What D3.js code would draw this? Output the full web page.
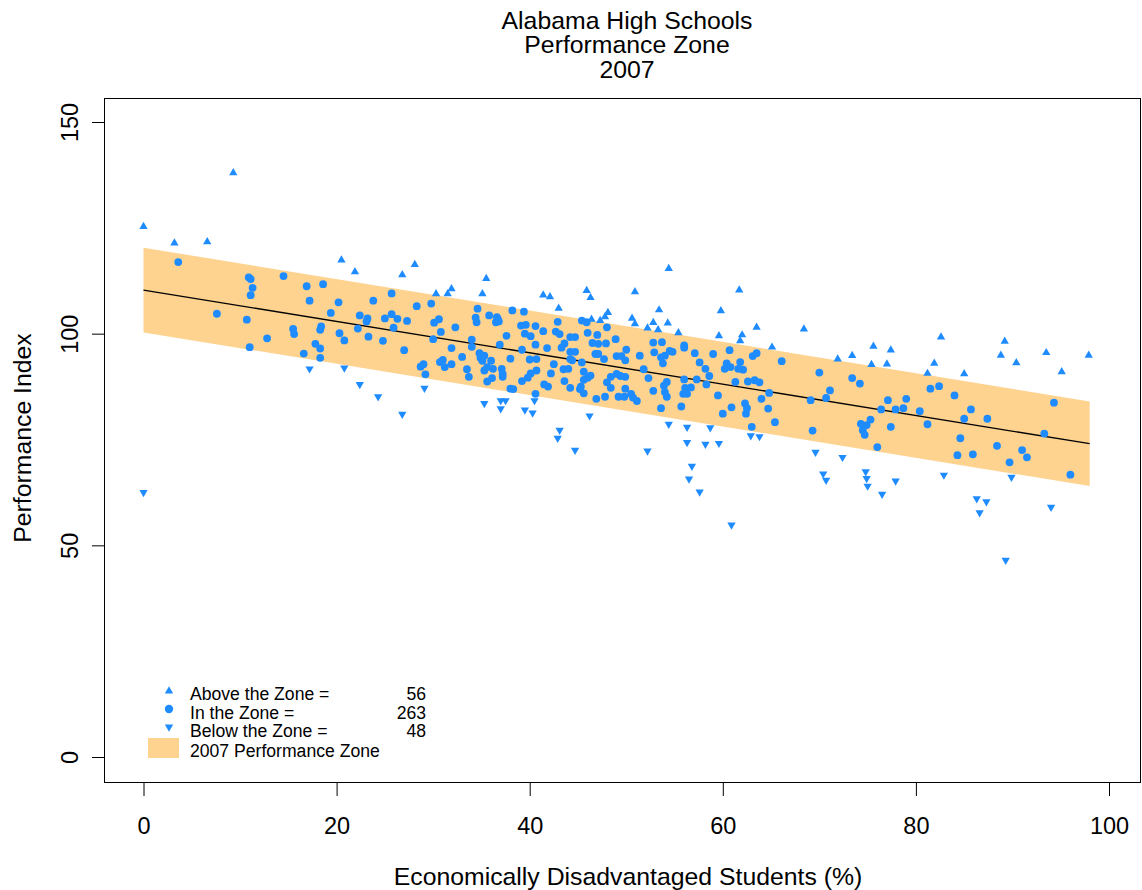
<!DOCTYPE html>
<html><head><meta charset="utf-8">
<script src="https://cdn.jsdelivr.net/npm/d3@7"></script>
<style>body{margin:0;background:#fff} svg{display:block;font-family:"Liberation Sans",Arial,Helvetica,sans-serif}</style>
</head><body><svg id="c" width="1142" height="890"></svg>
<script>
const titleLines = ["Alabama High Schools", "Performance Zone", "2007"];
const xTitle = "Economically Disadvantaged Students (%)";
const yTitle = "Performance Index";
const xTicks = [0, 20, 40, 60, 80, 100];
const yTicks = [0, 50, 100, 150];

const aboveZone = [
[0,125.3],[9.3,138.0],[3.2,121.4],[6.6,121.7],[20.5,117.4],[21.9,114.6],
[28.1,116.3],[26.8,113.9],[30.3,109.4],[31.5,109.4],[31.9,110.6],[35.5,113.0],[35.1,109.4],
[54.4,115.4],[41.4,109.1],[42.1,108.7],[45.9,110.2],[46.3,108.5],[50.9,109.9],[43.0,106.0],[48.1,105.0],
[47.8,104.0],[47.3,103.1],[46.4,103.4],[50.6,103.6],[50.9,102.3],[53.4,105.6],[52.8,102.6],[54.3,102.5],
[52.2,101.3],[53.3,100.9],[55.4,100.2],
[61.7,110.3],[59.8,105.4],[59.6,99.5],[62.0,99.7],[61.8,98.3],[63.5,101.5],[65.1,96.8],[68.4,101.1],
[71.9,94.0],[73.4,94.8],[75.6,97.0],[77.4,96.1],[75.4,92.7],[77.0,92.8],
[82.6,99.2],[89.2,98.2],[88.8,94.9],[93.5,95.5],[97.9,94.9],[81.9,93.0],[90.4,93.1],[95.1,91.0],[81.2,90.6],[85.0,90.5]
];

const inZone = [
[3.6,116.9],[10.9,113.3],[11.1,112.9],[11.3,110.8],[11.1,109.1],[14.5,113.6],[16.9,111.2],[18.6,111.7],
[17.2,107.8],[20.2,107.4],[19.4,104.9],[22.4,104.3],[7.6,104.7],[10.7,103.3],[12.8,98.9],[15.5,101.1],
[15.6,99.9],[11.0,96.8],[18.4,101.7],[18.3,100.9],[20.3,100.1],[20.8,98.4],[22.2,101.2],[17.8,97.6],
[18.3,96.5],[16.6,95.3],[18.3,94.3],
[23.8,107.8],[25.7,109.5],[23.2,103.6],[23.1,102.9],[25.0,103.6],[25.7,104.6],[26.3,103.5],[27.3,103.0],
[28.3,106.5],[29.8,107.1],[25.9,101.4],[23.3,99.3],[24.8,98.3],[27.0,96.1],[30.1,102.6],[30.6,103.4],
[30.8,100.4],[30.0,98.7],[32.3,101.5],[31.9,96.6],[28.7,92.2],[29.0,92.8],[29.2,90.4],[30.7,93.3],
[31.0,93.8],[31.2,92.1],[31.9,92.8],[33.0,94.5],[33.5,91.6],[33.7,89.8],[34.6,105.9],[34.4,103.8],
[34.5,102.7],[35.8,104.3],[36.6,103.9],[36.8,102.9],[36.5,102.7],[36.7,103.5],[38.2,105.5],[39.4,105.2],
[39.1,101.9],[39.6,102.1],[40.6,101.8],[39.5,100.0],[40.1,99.4],[40.6,97.4],[37.6,99.5],[36.9,97.4],
[34.0,98.6],[34.0,96.9],[34.8,95.4],[34.9,94.3],[35.1,93.6],[35.3,94.8],[36.0,93.6],[35.6,92.1],
[35.3,91.3],[36.2,91.7],[37.1,91.7],[37.2,90.5],[37.2,89.8],[36.1,89.5],[35.6,88.7],[38.0,94.1],
[39.2,96.2],[40.0,93.9],[40.7,94.0],[40.7,91.3],[40.1,90.6],[39.8,89.6],[39.2,88.8],[38.0,87.0],
[38.3,86.9],[40.6,85.8],
[42.9,102.8],[41.4,100.6],[42.7,100.5],[43.1,99.9],[45.4,103.1],[45.9,102.7],[46.0,100.2],[47.0,99.7],
[48.0,101.5],[44.2,99.2],[44.7,99.2],[43.6,97.7],[43.3,96.7],[41.8,96.6],[46.5,97.8],[47.1,97.6],
[47.9,97.7],[48.9,98.7],[44.2,95.7],[44.7,95.7],[46.8,95.2],[47.1,95.2],[49.0,94.7],[49.5,94.7],
[50.0,96.2],[49.9,93.7],[51.4,94.8],[47.7,94.0],[44.2,94.0],[44.4,93.7],[45.4,93.2],[42.5,92.8],
[43.5,91.6],[44.0,91.7],[45.6,91.0],[42.2,90.6],[46.3,90.1],[46.0,89.6],[45.6,89.1],[43.6,88.8],
[48.4,89.8],[49.0,90.5],[49.4,90.0],[49.9,89.8],[48.0,88.5],[51.8,91.6],[52.3,89.5],[52.8,97.9],
[53.7,98.0],[52.9,95.6],[54.0,94.8],[53.6,94.4],[53.8,93.0],[54.5,95.9],[54.8,95.7],[56.0,97.2],
[56.0,96.7],[57.1,95.4],[59.0,95.2],[57.6,93.2],[58.2,91.7],[58.6,90.0],[56.0,89.2],[57.3,89.2],
[58.3,88.0],[54.2,88.6],[53.9,87.7],[52.8,86.5],[56.1,87.2],[56.7,87.3],[56.3,85.8],[55.9,85.8],
[54.0,86.2],[54.2,85.1],[55.7,82.8],[53.6,82.4],[50.5,85.8],[50.7,84.9],[51.1,84.1],[49.9,87.0],
[49.8,85.1],[49.2,85.1],[48.4,87.2],[47.8,85.1],[46.9,84.6],[45.6,85.9],[45.3,87.5],[45.2,86.9],
[44.2,87.2],[41.9,87.5],[41.5,88.0],
[60.7,96.1],[60.4,93.0],[60.2,91.7],[60.8,92.1],[61.6,91.7],[61.8,93.3],[62.1,91.5],[63.1,94.7],
[63.5,95.4],[66.1,93.5],[61.3,88.6],[62.6,88.7],[63.3,89.0],[63.8,88.5],[59.5,85.4],[64.8,86.0],
[64.0,84.6],[62.3,83.5],[62.5,82.4],[62.4,81.1],[60.9,82.6],[60.0,81.1],[64.7,82.3],[65.4,79.1],
[63.0,78.0],[69.1,84.3],[69.3,77.1],[70.0,90.8],[71.1,86.6],[70.7,84.8],[73.4,89.5],[74.2,88.2],
[74.3,78.7],[74.9,78.4],[75.3,79.7],[74.5,77.2],[74.7,76.1],[76.0,73.2],[76.4,82.1],[77.1,84.3],
[77.4,78.0],[77.9,82.1],[78.7,82.4],[79.0,84.6],
[80.4,81.7],[81.5,87.0],[82.4,87.6],[84.0,85.4],[85.7,82.1],[85.0,79.9],[87.4,79.9],[81.2,78.6],
[84.6,75.3],[84.3,71.3],[85.9,71.5],[88.4,73.5],[91.0,72.5],[91.5,70.8],[89.7,69.6],[94.3,83.7],
[93.3,76.4],[96.0,66.7]
];

const belowZone = [
[0,62.5],[17.2,91.7],[20.8,91.9],
[22.4,88.0],[24.3,85.1],[26.8,81.0],[29.1,87.1],[35.3,83.5],[37.0,84.2],[37.5,84.2],[37.0,82.3],
[39.5,82.0],[40.3,81.3],[40.5,84.2],
[43.1,77.2],[42.9,75.3],[44.7,72.5],[46.2,80.6],[52.2,72.3],[54.4,78.6],[56.3,77.9],[56.3,74.3],
[56.8,68.7],[58.2,73.9],[58.7,77.8],[56.5,65.7],[60.9,54.8],
[59.6,74.1],[57.6,62.6],[62.9,75.9],[63.8,75.7],[69.6,72.0],[72.4,70.8],[70.4,66.9],[70.7,65.4],
[74.8,67.4],[74.9,65.8],[75.0,64.0],[76.5,62.1],[77.9,65.2],
[82.9,66.6],[89.9,66.1],[86.3,61.0],[87.3,60.3],[86.6,57.7],[94.0,59.0],[89.3,46.5]
];

const zoneX = [0, 98.0];
const zoneCenter = [110.3, 74.0];
const zoneHalfWidth = 10;

const legendLabels = ["Above the Zone =", "In the Zone =", "Below the Zone =", "2007 Performance Zone"];
const legendCounts = ["56", "263", "48"];

const blue = "#1E8CFF";
const bandColor = "#FED28F";

const svg = d3.select("#c");
const x = d3.scaleLinear().domain([0, 100]).range([143.5, 1109]);
const y = d3.scaleLinear().domain([0, 150]).range([757, 122]);

// band
const zone = zoneX.map((v, i) => ({x: v, c: zoneCenter[i]}));
svg.append("path").datum(zone)
  .attr("fill", bandColor)
  .attr("d", d3.area().x(d => x(d.x)).y0(d => y(d.c - zoneHalfWidth)).y1(d => y(d.c + zoneHalfWidth)));
svg.append("path").datum(zone)
  .attr("fill", "none").attr("stroke", "#000").attr("stroke-width", 1.3)
  .attr("d", d3.line().x(d => x(d.x)).y(d => y(d.c)));

// points
const triUp = d3.symbol().type(d3.symbolTriangle).size(30)();
svg.append("g").selectAll("circle").data(inZone).join("circle")
  .attr("cx", d => x(d[0])).attr("cy", d => y(d[1])).attr("r", 3.9).attr("fill", blue);
svg.append("g").selectAll("path").data(aboveZone).join("path")
  .attr("d", triUp).attr("fill", blue)
  .attr("transform", d => `translate(${x(d[0])},${y(d[1])})`);
svg.append("g").selectAll("path").data(belowZone).join("path")
  .attr("d", triUp).attr("fill", blue)
  .attr("transform", d => `translate(${x(d[0])},${y(d[1])}) rotate(180)`);

// box
svg.append("rect").attr("x", 104.5).attr("y", 98.5).attr("width", 1036).attr("height", 684)
  .attr("fill", "none").attr("stroke", "#000").attr("stroke-width", 1);

// axes
const gx = svg.append("g").attr("transform", "translate(0,783)")
  .call(d3.axisBottom(x).tickValues(xTicks).tickSize(13).tickSizeOuter(0));
gx.select(".domain").remove();
gx.selectAll("line").attr("stroke", "#000");
gx.selectAll("text").attr("y", 51).attr("dy", 0).attr("fill", "#000")
  .style("font-size", "23.5px").style("font-family", "'Liberation Sans', Arial, sans-serif");

const gy = svg.append("g").attr("transform", "translate(104,0)")
  .call(d3.axisLeft(y).tickValues(yTicks).tickSize(12).tickSizeOuter(0));
gy.select(".domain").remove();
gy.selectAll("line").attr("stroke", "#000");
gy.selectAll("text").attr("x", 0).attr("y", 0).attr("dy", 0).attr("text-anchor", "middle")
  .attr("transform", "translate(-26,0) rotate(-90)").attr("fill", "#000")
  .style("font-size", "23.5px").style("font-family", "'Liberation Sans', Arial, sans-serif");

// titles
svg.append("g").selectAll("text").data(titleLines).join("text")
  .attr("x", 627).attr("y", (d, i) => 28.5 + i * 24.5)
  .attr("text-anchor", "middle").style("font-size", "24.8px").text(d => d);
svg.append("text").attr("x", 628).attr("y", 885).attr("text-anchor", "middle")
  .style("font-size", "24.8px").text(xTitle);
svg.append("text").attr("transform", "translate(31,438) rotate(-90)").attr("text-anchor", "middle")
  .style("font-size", "24.8px").text(yTitle);

// legend
const lg = svg.append("g");
const legY = [700, 718.5, 737, 757];
lg.append("path").attr("d", triUp).attr("fill", blue).attr("transform", "translate(169,691)");
lg.append("circle").attr("cx", 169).attr("cy", 709).attr("r", 4.2).attr("fill", blue);
lg.append("path").attr("d", triUp).attr("fill", blue).attr("transform", "translate(169,727) rotate(180)");
lg.append("rect").attr("x", 148).attr("y", 738).attr("width", 31).attr("height", 20).attr("fill", bandColor);
lg.selectAll("text.lab").data(legendLabels).join("text").attr("class", "lab")
  .attr("x", 190).attr("y", (d, i) => legY[i]).style("font-size", "17.6px").text(d => d);
lg.selectAll("text.cnt").data(legendCounts).join("text").attr("class", "cnt")
  .attr("x", 426).attr("y", (d, i) => legY[i]).attr("text-anchor", "end").style("font-size", "17.6px").text(d => d);
</script></body></html>
